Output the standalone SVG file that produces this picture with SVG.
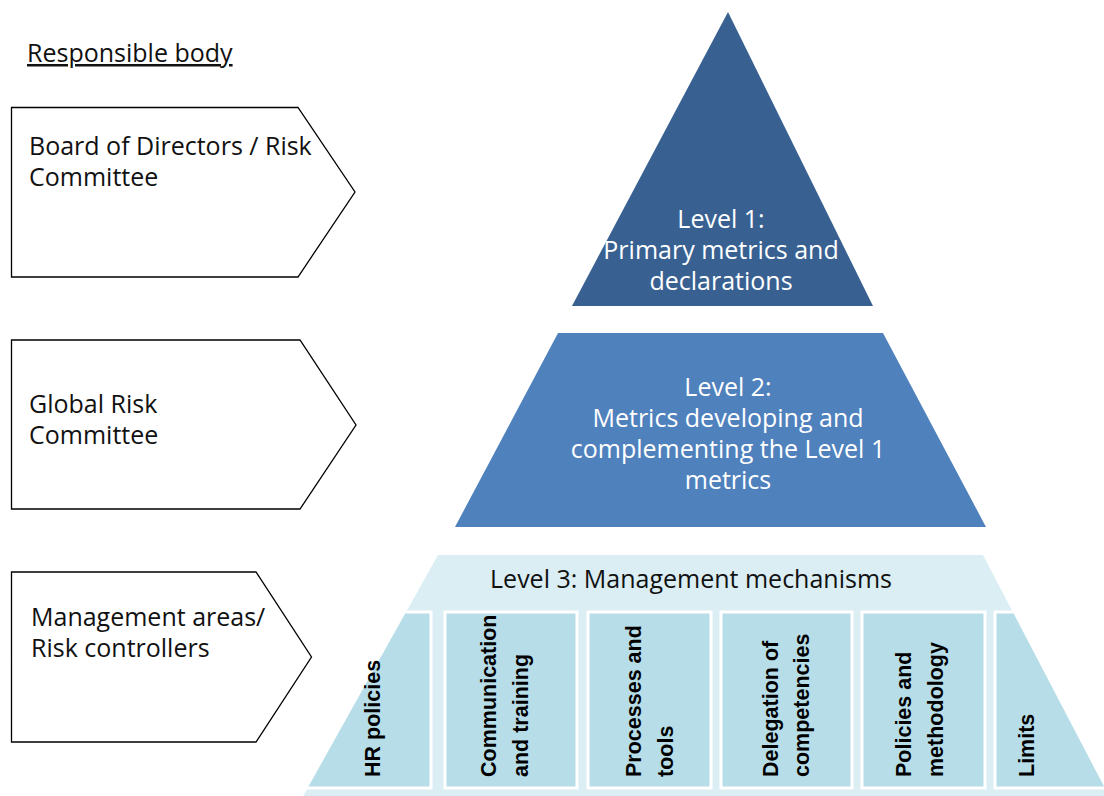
<svg xmlns="http://www.w3.org/2000/svg" width="1104" height="796" viewBox="0 0 1104 796">
<style>
.pent{fill:#fff;stroke:#000;stroke-width:1.3}
.lbl{font-family:"Open Sans","Liberation Sans",sans-serif;font-size:25px;fill:#111}
.wt{font-family:"Open Sans","Liberation Sans",sans-serif;font-size:25px;fill:#fff;text-anchor:middle}
.box{fill:#B7DEE8;stroke:#fff;stroke-width:3}
.bt{font-family:"Liberation Sans",Arial,sans-serif;font-size:21.5px;font-weight:bold;fill:#000}
</style>
<defs>
<clipPath id="l3clip"><polygon points="438,555 983,555 1111,800 301,800"/></clipPath>
</defs>
<rect width="1104" height="796" fill="#fff"/>
<text id="title" class="lbl" x="27" y="62" text-decoration="underline">Responsible body</text>

<g id="body1">
<polygon class="pent" points="11.5,107.5 298,107.5 355,192 298,277 11.5,277"/>
<text class="lbl" x="29" y="155">Board of Directors / Risk</text>
<text class="lbl" x="29" y="186">Committee</text>
</g>
<g id="body2">
<polygon class="pent" points="11.5,340 300,340 356,425 300,509 11.5,509"/>
<text class="lbl" x="29" y="413">Global Risk</text>
<text class="lbl" x="29" y="444">Committee</text>
</g>
<g id="body3">
<polygon class="pent" points="11.5,572 256,572 311.5,657 256,742 11.5,742"/>
<text class="lbl" x="31" y="626">Management areas/</text>
<text class="lbl" x="31" y="657">Risk controllers</text>
</g>

<g id="level1">
<polygon points="728,12 873,306 572,306" fill="#386192"/>
<text class="wt" x="721" y="228">Level 1:</text>
<text class="wt" x="721" y="259">Primary metrics and</text>
<text class="wt" x="721" y="290">declarations</text>
</g>

<g id="level2">
<polygon points="558,333 883,333 986,527 455,527" fill="#4F81BD"/>
<text class="wt" x="728" y="396">Level 2:</text>
<text class="wt" x="728" y="427">Metrics developing and</text>
<text class="wt" x="728" y="458">complementing the Level 1</text>
<text class="wt" x="728" y="489">metrics</text>
</g>

<g id="level3">
<polygon points="438,555 983,555 1111,800 301,800" fill="#DAEEF3"/>
<text class="lbl" x="691" y="588" text-anchor="middle" fill="#222">Level 3: Management mechanisms</text>
<g clip-path="url(#l3clip)">
<rect class="box" x="290" y="612" width="141" height="176"/>
<rect class="box" x="445" y="612" width="132" height="176"/>
<rect class="box" x="588" y="612" width="123" height="176"/>
<rect class="box" x="721" y="612" width="131" height="176"/>
<rect class="box" x="862" y="612" width="123" height="176"/>
<rect class="box" x="995" y="612" width="130" height="176"/>
</g>
</g>

<g id="m-hr"><text class="bt" transform="translate(380,777) rotate(-90)">HR policies</text></g>
<g id="m-comm"><text class="bt" transform="translate(496,777) rotate(-90)">Communication</text><text class="bt" transform="translate(528,777) rotate(-90)">and training</text></g>
<g id="m-proc"><text class="bt" transform="translate(641,777) rotate(-90)">Processes and</text><text class="bt" transform="translate(673,777) rotate(-90)">tools</text></g>
<g id="m-deleg"><text class="bt" transform="translate(778,777) rotate(-90)">Delegation of</text><text class="bt" transform="translate(809,777) rotate(-90)">competencies</text></g>
<g id="m-pol"><text class="bt" transform="translate(911,777) rotate(-90)">Policies and</text><text class="bt" transform="translate(943,777) rotate(-90)">methodology</text></g>
<g id="m-lim"><text class="bt" transform="translate(1034,777) rotate(-90)">Limits</text></g>

<g id="connectors"></g>
</svg>
